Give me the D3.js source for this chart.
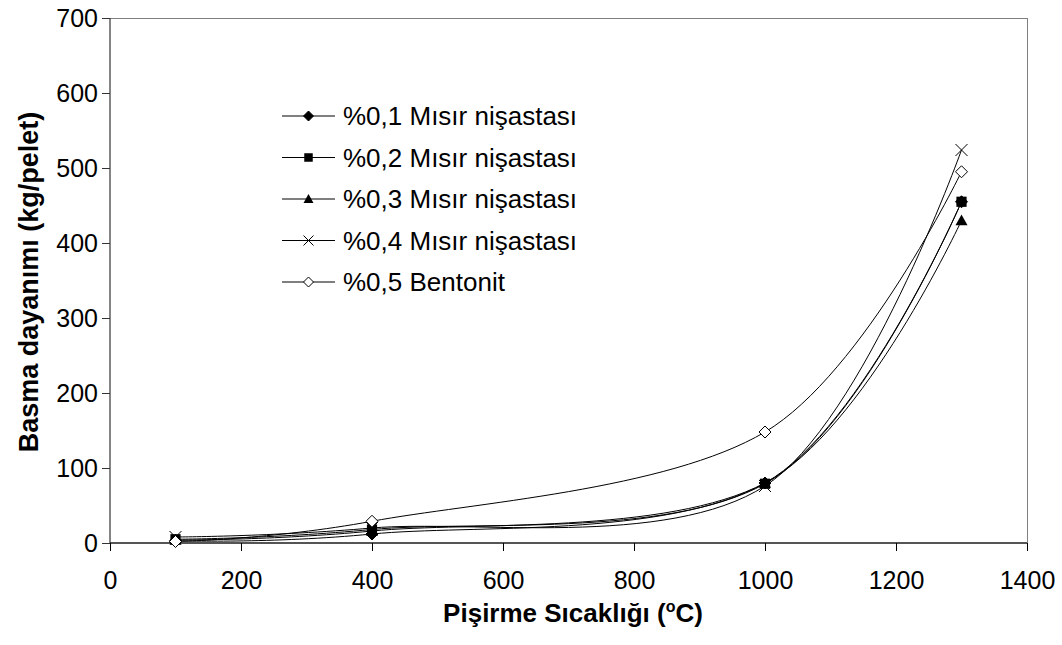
<!DOCTYPE html>
<html><head><meta charset="utf-8">
<script src="https://cdn.jsdelivr.net/npm/d3@7"></script>
<style>
body{margin:0;background:#fff;}
text{font-family:"Liberation Sans",Arial,sans-serif;}
</style></head>
<body><svg id="c" width="1062" height="645"></svg>
<script>
const temps = [100, 400, 1000, 1300];
const seriesNames = ["%0,1 Mısır nişastası","%0,2 Mısır nişastası","%0,3 Mısır nişastası","%0,4 Mısır nişastası","%0,5 Bentonit"];
const s1 = [3, 12, 80, 455];
const s2 = [5, 18, 79, 455];
const s3 = [4, 16, 80, 430];
const s4 = [8, 20, 76, 524];
const s5 = [2, 29, 148, 495];
const markers = ["diamond","square","triangle","cross","opendiamond"];
const xTicks = [0,200,400,600,800,1000,1200,1400];
const yTicks = [0,100,200,300,400,500,600,700];
const allSeries = [s1,s2,s3,s4,s5];

const svg = d3.select("#c");
const L=110, R=1027, T=18, B=543;
const x = d3.scaleLinear().domain([0,1400]).range([L,R]);
const y = d3.scaleLinear().domain([0,700]).range([B,T]);

// frame top/right
svg.append("line").attr("x1",L).attr("x2",R).attr("y1",T+0.5).attr("y2",T+0.5).attr("stroke","#808080");
svg.append("line").attr("x1",R+0.5).attr("x2",R+0.5).attr("y1",T).attr("y2",B).attr("stroke","#808080");

const xAxis = svg.append("g").attr("transform",`translate(0,${B})`)
  .call(d3.axisBottom(x).tickValues(xTicks).tickSize(8).tickPadding(20).tickFormat(d3.format("d")));
xAxis.select(".domain").attr("stroke","#555").attr("stroke-width",2).attr("d",`M${L},0H${R}`);
xAxis.selectAll(".tick line").attr("stroke","#000");
xAxis.selectAll("text").attr("font-size",25).attr("fill","#000").attr("dy","0.71em");

const yAxis = svg.append("g").attr("transform",`translate(${L},0)`)
  .call(d3.axisLeft(y).tickValues(yTicks).tickSize(8).tickPadding(4).tickFormat(d3.format("d")));
yAxis.select(".domain").attr("stroke","#333").attr("stroke-width",1.2).attr("d",`M0,${B}V${T}`);
yAxis.selectAll(".tick line").attr("stroke","#333");
yAxis.selectAll("text").attr("font-size",25).attr("fill","#000");

// titles
svg.append("text").attr("x",573).attr("y",622).attr("text-anchor","middle")
  .attr("font-size",26).attr("font-weight","bold")
  .html('Pişirme Sıcaklığı (<tspan dy="-10" font-size="16">o</tspan><tspan dy="10">C)</tspan>');
svg.append("text").attr("transform","translate(38,282) rotate(-90)").attr("text-anchor","middle")
  .attr("font-size",27).attr("font-weight","bold").text("Basma dayanımı (kg/pelet)");

function drawMarker(g, type, cx, cy, s){
  if(type==="diamond"||type==="opendiamond"){
    g.append("path").attr("d",`M${cx},${cy-s}L${cx+s},${cy}L${cx},${cy+s}L${cx-s},${cy}Z`)
      .attr("fill", type==="diamond"?"#000":"#fff").attr("stroke","#000").attr("stroke-width",1);
  } else if(type==="square"){
    g.append("rect").attr("x",cx-s*0.85).attr("y",cy-s*0.85).attr("width",s*1.7).attr("height",s*1.7).attr("fill","#000");
  } else if(type==="triangle"){
    g.append("path").attr("d",`M${cx},${cy-s}L${cx+s},${cy+s*0.8}L${cx-s},${cy+s*0.8}Z`).attr("fill","#000");
  } else if(type==="cross"){
    g.append("path").attr("d",`M${cx-s},${cy-s}L${cx+s},${cy+s}M${cx+s},${cy-s}L${cx-s},${cy+s}`)
      .attr("stroke","#000").attr("stroke-width",1).attr("fill","none");
  }
}

const line = d3.line().x((d,i)=>x(temps[i])).y(d=>y(d)).curve(d3.curveCardinal.tension(0));
const plot = svg.append("g");
allSeries.forEach((s,k)=>{
  plot.append("path").attr("d",line(s)).attr("fill","none").attr("stroke","#000").attr("stroke-width",1);
});
allSeries.forEach((s,k)=>{
  const g = plot.append("g");
  s.forEach((v,i)=>drawMarker(g, markers[k], x(temps[i]), y(v), 6));
});

// legend
const legY0 = 116, legDy = 41.5;
seriesNames.forEach((n,k)=>{
  const g = svg.append("g");
  const yy = legY0 + k*legDy;
  g.append("line").attr("x1",282).attr("x2",335).attr("y1",yy).attr("y2",yy).attr("stroke","#000");
  drawMarker(g, markers[k], 308.5, yy, 5);
  g.append("text").attr("x",343).attr("y",yy).attr("dy","0.35em").attr("font-size",26).text(n);
});
</script></body></html>
